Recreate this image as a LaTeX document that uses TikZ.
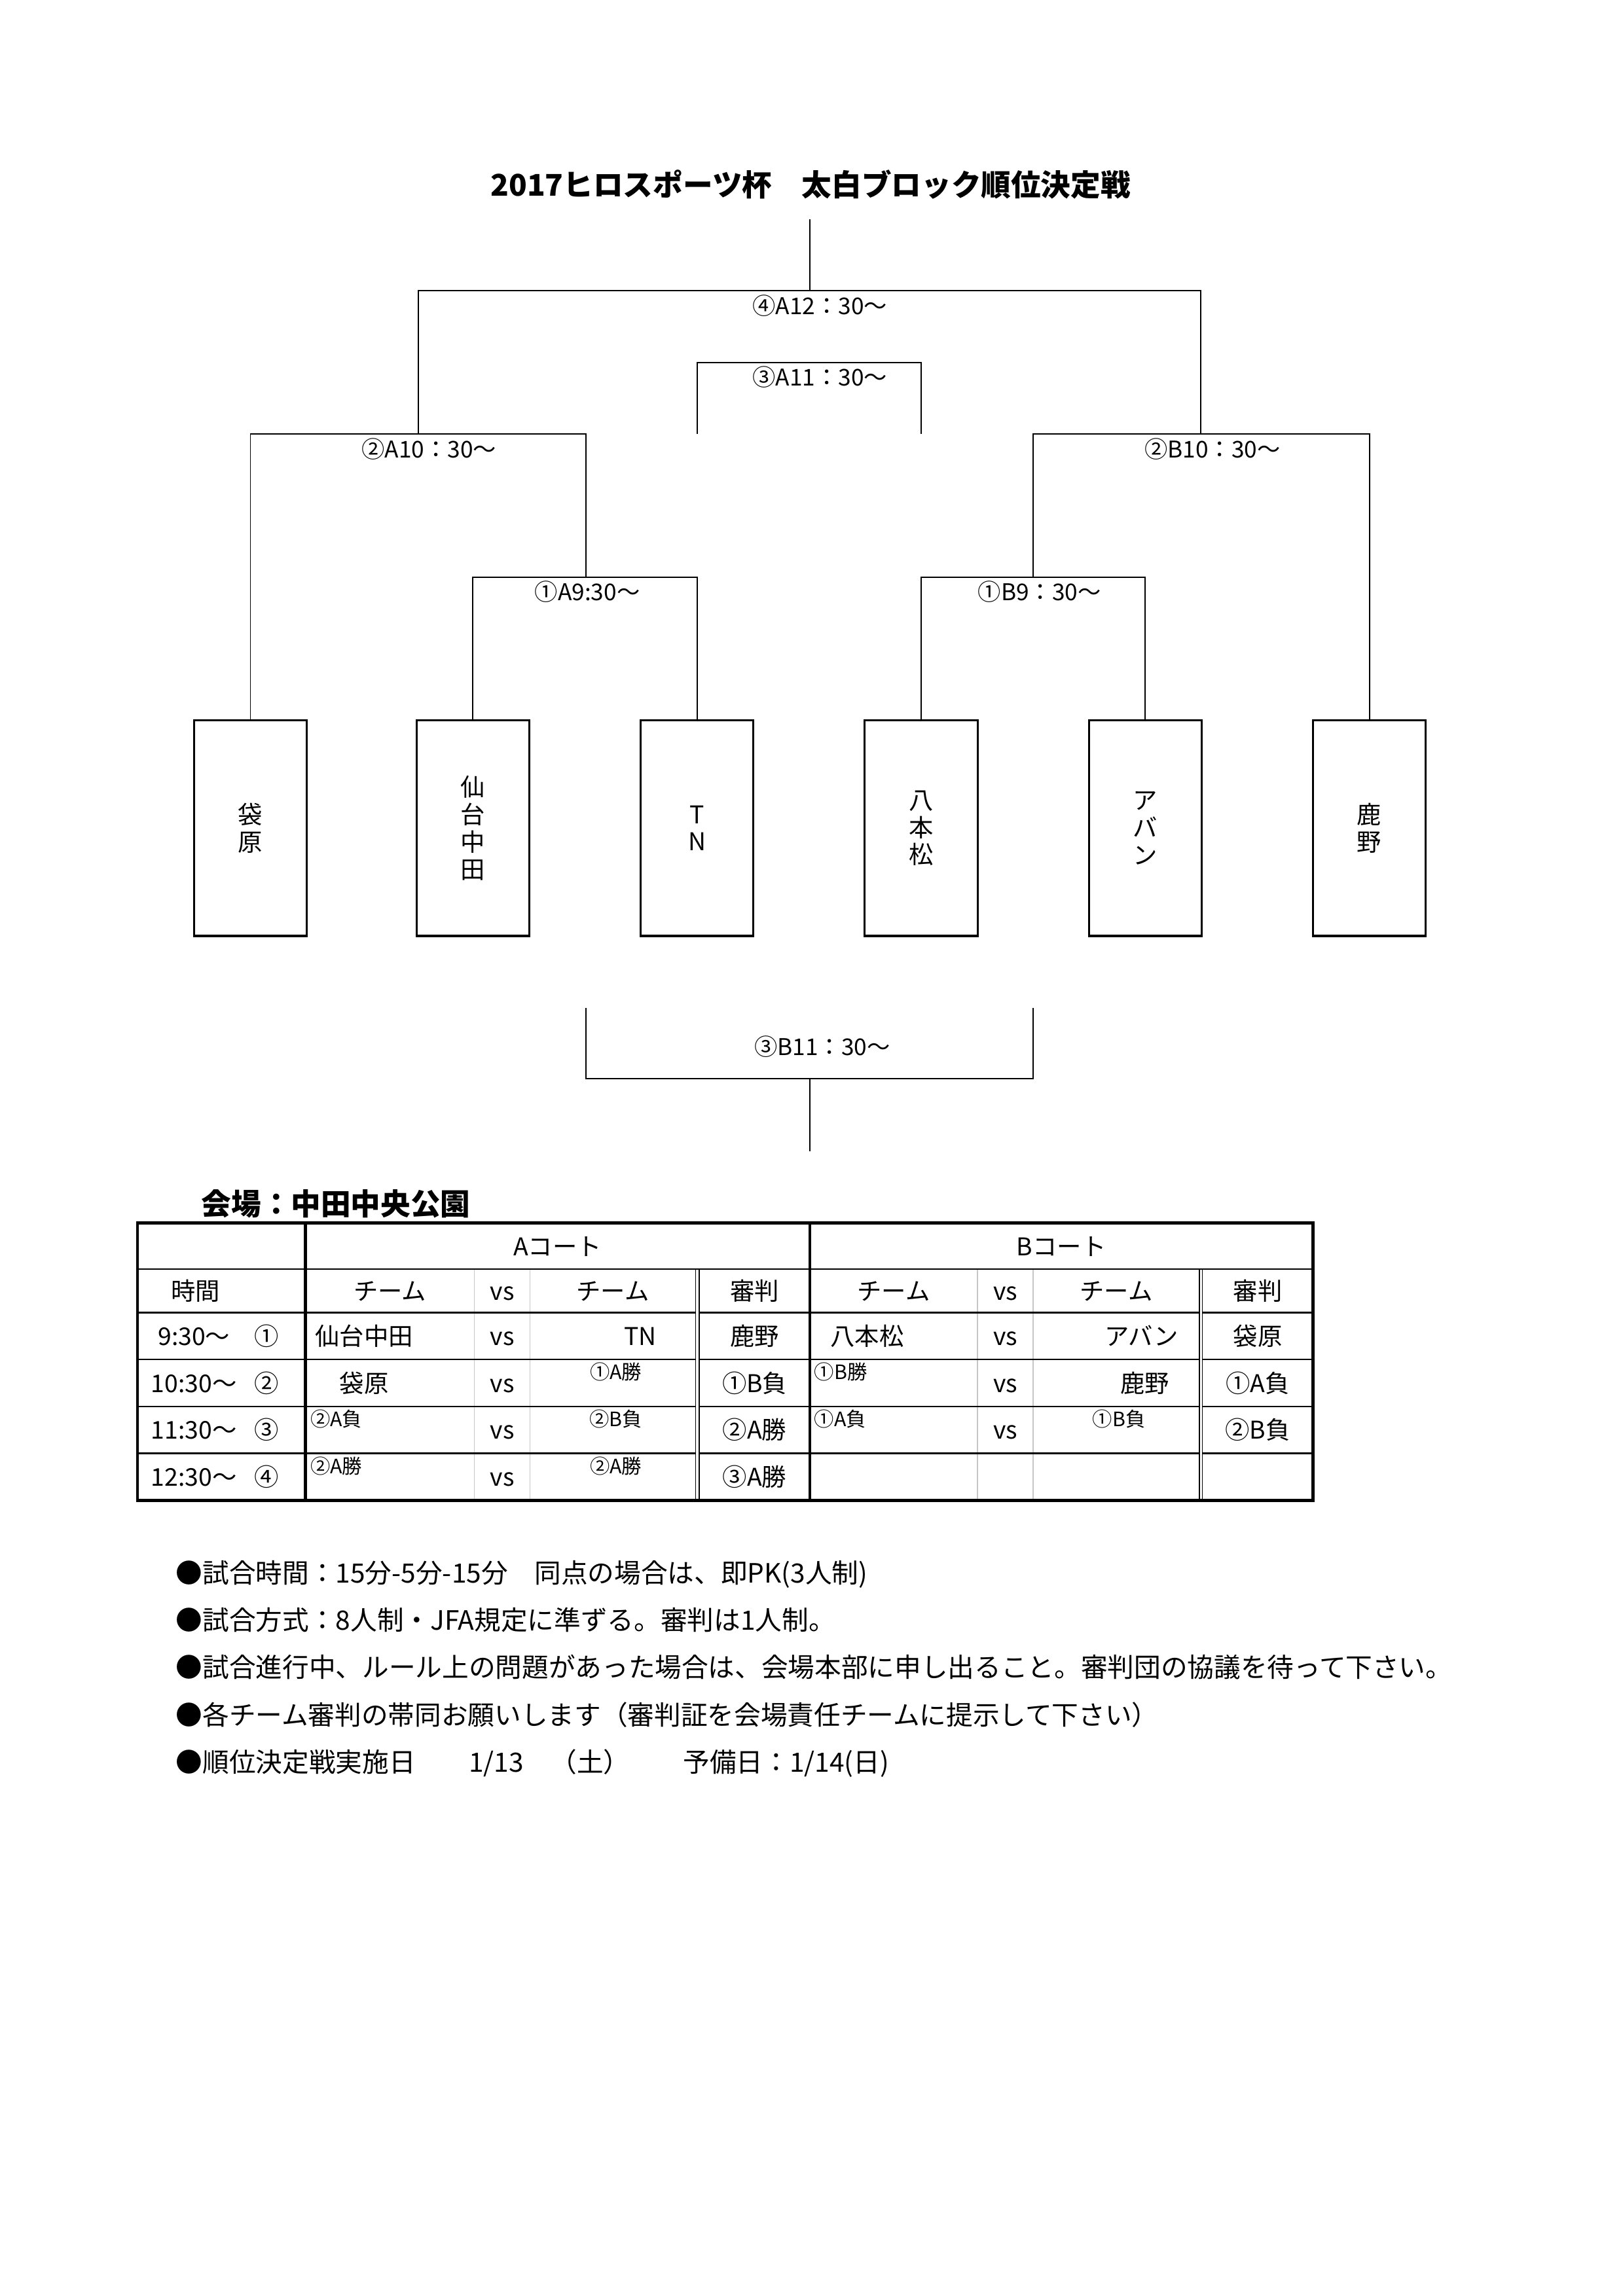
\documentclass[tikz,border=0pt]{standalone}
\usepackage{fontspec}
\setmainfont{Noto Sans CJK JP}
\usepackage{tikz}

\begin{document}
\begin{tikzpicture}[x=1mm,y=-1mm,line width=0.45pt,
teambox/.style={draw,line width=0.75pt,minimum width=14.6mm,minimum height=27.9mm,inner sep=0pt,align=center,font=\fontsize{9}{10.1}\selectfont},
matchlbl/.style={inner sep=0pt,font=\fontsize{8.5}{10}\selectfont},
cell/.style={anchor=base,inner sep=0pt,font=\fontsize{9}{10}\selectfont},
smallcell/.style={anchor=base,inner sep=0pt,font=\fontsize{7.3}{8}\selectfont},
notetext/.style={anchor=base west,inner sep=0pt,font=\fontsize{9.8}{11}\selectfont}]
\useasboundingbox (0,0) rectangle (210,297.2);

\node[anchor=base,inner sep=0pt,font=\fontsize{11}{13}\selectfont\bfseries] (title) at (104.9,25.4) {2017ヒロスポーツ杯　太白ブロック順位決定戦};

\node[teambox] (fukuro) at (32.4,107.2) {袋\\原};
\node[teambox] (sendai) at (61.2,107.2) {仙\\台\\中\\田};
\node[teambox] (tn) at (90.2,107.2) {T\\N};
\node[teambox] (hachi) at (119.2,107.2) {八\\本\\松};
\node[teambox] (aban) at (148.2,107.2) {ア\\バ\\ン};
\node[teambox] (kano) at (177.2,107.2) {鹿\\野};

\coordinate (top) at (104.8,28.4);
\coordinate (m4) at (104.8,37.6);
\coordinate (m3a) at (104.8,46.9);
\coordinate (m2a) at (54.1,56.2);
\coordinate (m2b) at (155.4,56.2);
\coordinate (m1a) at (75.8,74.7);
\coordinate (m1b) at (133.7,74.7);
\coordinate (l3b) at (75.8,130.5);
\coordinate (r3b) at (133.7,130.5);
\coordinate (m3b) at (104.8,139.6);
\coordinate (w3b) at (104.8,149.0);

\draw (top)--(m4) (m2a)|-(m4)-|(m2b)
(fukuro.north)|-(m2a)-|(m1a)
(sendai.north)|-(m1a)-|(tn.north)
(hachi.north)|-(m1b)-|(aban.north)
(m1b)|-(m2b)-|(kano.north)
(tn.north |- m2a)|-(m3a)-|(hachi.north |- m2a)
(l3b)|-(m3b)-|(r3b) (m3b)--(w3b);

\node[matchlbl] (lab4) at (106.1,39.6) {④A12：30～};
\node[matchlbl] (lab3a) at (106.1,48.8) {③A11：30～};
\node[matchlbl] (lab2a) at (55.5,58.1) {②A10：30～};
\node[matchlbl] (lab2b) at (156.9,58.1) {②B10：30～};
\node[matchlbl] (lab1a) at (76.0,76.6) {①A9:30～};
\node[matchlbl] (lab1b) at (134.5,76.6) {①B9：30～};
\node[matchlbl] (lab3b) at (106.4,135.5) {③B11：30～};

\node[anchor=base west,inner sep=0pt,font=\fontsize{11}{13}\selectfont\bfseries] (venue) at (26.0,157.3) {会場：中田中央公園};

\draw[gray!45,line width=0.35pt] (61.4,164.3)--(61.4,194.2) (68.6,164.3)--(68.6,194.2)
(126.5,164.3)--(126.5,194.2) (133.7,164.3)--(133.7,194.2);
\draw[line width=0.55pt] (17.8,164.3)--(169.9,164.3)
(17.8,169.9)--(90,169.9) (90.5,169.9)--(155.2,169.9) (155.6,169.9)--(169.9,169.9)
(17.8,175.98)--(90,175.98) (90.5,175.98)--(155.2,175.98) (155.6,175.98)--(169.9,175.98)
(17.8,182.05)--(90,182.05) (90.5,182.05)--(155.2,182.05) (155.6,182.05)--(169.9,182.05)
(17.8,188.13)--(90,188.13) (90.5,188.13)--(155.2,188.13) (155.6,188.13)--(169.9,188.13);
\draw[line width=0.4pt] (90,164.3)--(90,194.2) (90.5,164.3)--(90.5,194.2)
(155.2,164.3)--(155.2,194.2) (155.6,164.3)--(155.6,194.2);
\draw[line width=1.1pt] (17.8,158.3) rectangle (169.9,194.2)
(39.5,158.3)--(39.5,194.2) (104.8,158.3)--(104.8,194.2);

\node[cell] (courta) at (72.15,162.5) {Aコート};
\node[cell] (courtb) at (137.35,162.5) {Bコート};
\node[cell] (jikan) at (25.3,168.3) {時間};
\node[cell] (hteama1) at (50.45,168.3) {チーム};
\node[cell] (hvsa) at (65.0,168.3) {vs};
\node[cell] (hteama2) at (79.3,168.3) {チーム};
\node[cell] (hrefa) at (97.65,168.3) {審判};
\node[cell] (hteamb1) at (115.65,168.3) {チーム};
\node[cell] (hvsb) at (130.1,168.3) {vs};
\node[cell] (hteamb2) at (144.45,168.3) {チーム};
\node[cell] (hrefb) at (162.75,168.3) {審判};

\node[cell] (time1) at (25.1,174.14) {9:30～};
\node[cell] (no1) at (34.5,174.14) {①};
\node[cell] (time2) at (25.1,180.21) {10:30～};
\node[cell] (no2) at (34.5,180.21) {②};
\node[cell] (time3) at (25.1,186.29) {11:30～};
\node[cell] (no3) at (34.5,186.29) {③};
\node[cell] (time4) at (25.1,192.36) {12:30～};
\node[cell] (no4) at (34.5,192.36) {④};

\node[cell,anchor=base west] (a1left) at (40.7,174.14) {仙台中田};
\node[cell] (a1vs) at (65.0,174.14) {vs};
\node[cell,anchor=base east] (a1right) at (85.0,174.14) {TN};
\node[cell] (a1ref) at (97.65,174.14) {鹿野};
\node[cell,anchor=base west] (b1left) at (107.4,174.14) {八本松};
\node[cell] (b1vs) at (130.1,174.14) {vs};
\node[cell,anchor=base east] (b1right) at (152.6,174.14) {アバン};
\node[cell] (b1ref) at (162.75,174.14) {袋原};

\node[cell,anchor=base west] (a2left) at (40.7,180.21) {　袋原};
\node[cell] (a2vs) at (65.0,180.21) {vs};
\node[smallcell] (a2right) at (79.7,178.58) {①A勝};
\node[cell] (a2ref) at (97.65,180.21) {①B負};
\node[smallcell,anchor=base west] (b2left) at (105.3,178.58) {①B勝};
\node[cell] (b2vs) at (130.1,180.21) {vs};
\node[cell,anchor=base east] (b2right) at (151.4,180.21) {鹿野};
\node[cell] (b2ref) at (162.75,180.21) {①A負};

\node[smallcell,anchor=base west] (a3left) at (40.1,184.65) {②A負};
\node[cell] (a3vs) at (65.0,186.29) {vs};
\node[smallcell] (a3right) at (79.7,184.65) {②B負};
\node[cell] (a3ref) at (97.65,186.29) {②A勝};
\node[smallcell,anchor=base west] (b3left) at (105.3,184.65) {①A負};
\node[cell] (b3vs) at (130.1,186.29) {vs};
\node[smallcell] (b3right) at (144.8,184.65) {①B負};
\node[cell] (b3ref) at (162.75,186.29) {②B負};

\node[smallcell,anchor=base west] (a4left) at (40.1,190.73) {②A勝};
\node[cell] (a4vs) at (65.0,192.36) {vs};
\node[smallcell] (a4right) at (79.7,190.73) {②A勝};
\node[cell] (a4ref) at (97.65,192.36) {③A勝};

\node[notetext] (note1) at (22.7,204.9) {●試合時間：15分-5分-15分　同点の場合は、即PK(3人制)};
\node[notetext] (note2) at (22.7,211.0) {●試合方式：8人制・JFA規定に準ずる。審判は1人制。};
\node[notetext] (note3) at (22.7,217.1) {●試合進行中、ルール上の問題があった場合は、会場本部に申し出ること。審判団の協議を待って下さい。};
\node[notetext] (note4) at (22.7,223.3) {●各チーム審判の帯同お願いします（審判証を会場責任チームに提示して下さい）};
\node[notetext] (note5) at (22.7,229.4) {●順位決定戦実施日　　1/13　（土）　　予備日：1/14(日)};
\end{tikzpicture}
\end{document}
